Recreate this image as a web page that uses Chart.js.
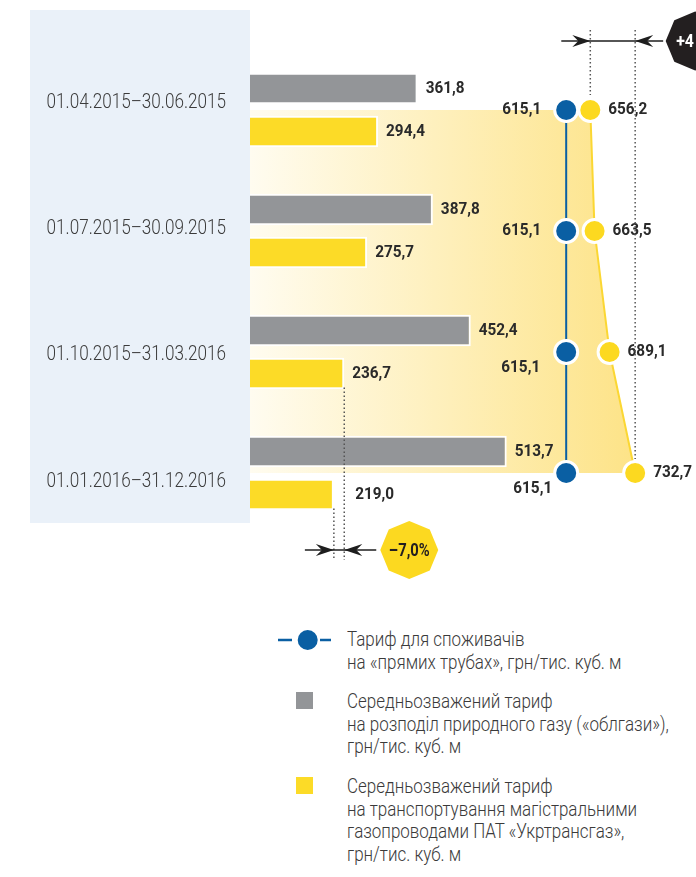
<!DOCTYPE html>
<html>
<head>
<meta charset="utf-8">
<style>
  body { margin: 0; background: #fff; width: 696px; height: 877px; overflow: hidden; position: relative;
         font-family: Roboto, 'DejaVu Sans Condensed', sans-serif; }
  #wrap { position: absolute; left: 0; top: 0; width: 696px; height: 600px; }
  .txt { position: absolute; left: 347px; color: #3a3a3a; font-size: 19.5px; font-weight: 300; line-height: 22.6px;
         white-space: nowrap; transform: scaleX(0.87); transform-origin: 0 0; }
  .sym { position: absolute; }
</style>
</head>
<body>
<div id="wrap"><canvas id="tariff-chart"></canvas></div>

<svg class="sym" style="left:276px;top:628px" width="60" height="24">
  <line x1="2" y1="12" x2="16" y2="12" stroke="#0a5fa3" stroke-width="2.5"/>
  <circle cx="31.7" cy="12" r="10" fill="#0a5fa3"/>
  <line x1="44" y1="12" x2="55" y2="12" stroke="#0a5fa3" stroke-width="2.5"/>
</svg>
<div class="txt" style="top:629px">Тариф для споживачів<br>на «прямих трубах», грн/тис. куб. м</div>

<div class="sym" style="left:296px;top:692px;width:17px;height:17px;background:#939598"></div>
<div class="txt" style="top:691px">Середньозважений тариф<br>на розподіл природного газу («облгази»),<br>грн/тис. куб. м</div>

<div class="sym" style="left:296px;top:777px;width:17px;height:17px;background:#fcdb27"></div>
<div class="txt" style="top:776px">Середньозважений тариф<br>на транспортування магістральними<br>газопроводами ПАТ «Укртрансгаз»,<br>грн/тис. куб. м</div>

<script src="https://cdn.jsdelivr.net/npm/chart.js"></script>

<script>
    const periods = ['01.04.2015–30.06.2015', '01.07.2015–30.09.2015', '01.10.2015–31.03.2016', '01.01.2016–31.12.2016'];
    const distribution = [361.8, 387.8, 452.4, 513.7];   // облгази
    const transport = [294.4, 275.7, 236.7, 219.0];      // Укртрансгаз
    const directPipes = [615.1, 615.1, 615.1, 615.1];
    const networkTotal = [656.2, 663.5, 689.1, 732.7];
    const badgeUp = '+4';
    const badgeDown = '–7,0%';

    const FONT = "Roboto, 'DejaVu Sans Condensed', sans-serif";
    const BLUE = '#0a5fa3';
    const GOLD = '#fcd920';
    const GREY = '#939598';
    const BAR_YELLOW = '#fcdb27';

    const fmt = v => v.toFixed(1).replace('.', ',');

    // narrow text: the house font is condensed, so squeeze Roboto horizontally
    function narrowText(ctx, text, x, y, align, sx) {
        ctx.save();
        ctx.translate(x, y);
        ctx.scale(sx, 1);
        ctx.textAlign = align;
        ctx.fillText(text, 0, 0);
        ctx.restore();
    }

    // light blue panel with the period labels
    const panel = {
        id: 'panel',
        beforeDraw(chart) {
            const { ctx, chartArea } = chart;
            ctx.save();
            ctx.fillStyle = '#eaf1f9';
            ctx.fillRect(30, 10, chartArea.left - 30, 513);
            ctx.restore();
        },
        afterDraw(chart) {
            const { ctx, chartArea } = chart;
            const y = chart.scales.y;
            ctx.save();
            ctx.font = `300 21px ${FONT}`;
            ctx.fillStyle = '#3b3b3b';
            ctx.textBaseline = 'middle';
            // labels run on a slightly wider pitch than the rows
            chart.data.labels.forEach((lbl, i) => {
                narrowText(ctx, lbl, chartArea.left - 24, y.getPixelForTick(i) - 7.5 + 5.3 * i, 'right', 0.815);
            });
            ctx.restore();
        }
    };

    // shaded area bounded by the network tariff points
    const area = {
        id: 'area',
        beforeDatasetsDraw(chart) {
            const { ctx, chartArea } = chart;
            const pts = chart.getDatasetMeta(3).data;
            const left = chartArea.left;
            const maxX = Math.max(...pts.map(p => p.x));
            const grad = ctx.createLinearGradient(left, 0, maxX, 0);
            grad.addColorStop(0, '#fffcf0');
            grad.addColorStop(1, '#fde387');
            ctx.save();
            ctx.beginPath();
            ctx.moveTo(left, pts[0].y);
            pts.forEach(p => ctx.lineTo(p.x, p.y));
            ctx.lineTo(left, pts[pts.length - 1].y);
            ctx.closePath();
            ctx.fillStyle = grad;
            ctx.fill();
            ctx.beginPath();
            pts.forEach((p, i) => i ? ctx.lineTo(p.x, p.y) : ctx.moveTo(p.x, p.y));
            ctx.strokeStyle = '#fbd733';
            ctx.lineWidth = 2;
            ctx.stroke();
            ctx.restore();
        }
    };

    // value labels next to bars and points
    const values = {
        id: 'values',
        afterDatasetsDraw(chart) {
            const { ctx } = chart;
            const x = chart.scales.x;
            const sx = 0.9;
            ctx.save();
            ctx.font = `bold 17px ${FONT}`;
            ctx.fillStyle = '#2a2a2a';
            ctx.textBaseline = 'middle';

            chart.getDatasetMeta(0).data.forEach((b, i) => narrowText(ctx, fmt(distribution[i]), b.x + 8, b.y, 'left', sx));
            chart.getDatasetMeta(1).data.forEach((b, i) => {
                let lx = b.x + 8;
                // last row: text sits past the comparison guide
                if (i === transport.length - 1) lx = Math.max(lx, x.getPixelForValue(transport[i - 1]) + 11);
                narrowText(ctx, fmt(transport[i]), lx, b.y, 'left', sx);
            });
            chart.getDatasetMeta(3).data.forEach((p, i) => narrowText(ctx, fmt(networkTotal[i]), p.x + 18, p.y, 'left', sx));

            const blueShift = [[-25, 0], [-25, 0], [-26, 16], [-14, 16]];
            chart.getDatasetMeta(2).data.forEach((p, i) => {
                narrowText(ctx, fmt(directPipes[i]), p.x + blueShift[i][0], p.y + blueShift[i][1], 'right', sx);
            });
            ctx.restore();
        }
    };

    function dotted(ctx, x, y1, y2) {
        ctx.beginPath();
        ctx.setLineDash([1.5, 2.5]);
        ctx.moveTo(x, y1);
        ctx.lineTo(x, y2);
        ctx.strokeStyle = '#555';
        ctx.lineWidth = 1.5;
        ctx.stroke();
        ctx.setLineDash([]);
    }

    function arrowHead(ctx, x, y, dir) {
        ctx.beginPath();
        ctx.moveTo(x, y);
        ctx.lineTo(x - dir * 18, y - 6);
        ctx.lineTo(x - dir * 12, y);
        ctx.lineTo(x - dir * 18, y + 6);
        ctx.closePath();
        ctx.fillStyle = '#1e1e1e';
        ctx.fill();
    }

    function octagon(ctx, cx, cy, r, color) {
        ctx.beginPath();
        for (let k = 0; k < 8; k++) {
            const a = k * Math.PI / 4;
            const px = cx + r * Math.cos(a), py = cy + r * Math.sin(a);
            k ? ctx.lineTo(px, py) : ctx.moveTo(px, py);
        }
        ctx.closePath();
        ctx.fillStyle = color;
        ctx.fill();
    }

    function bracket(ctx, xa, xb, y, left, right) {
        ctx.beginPath();
        ctx.moveTo(left, y);
        ctx.lineTo(right, y);
        ctx.strokeStyle = '#1e1e1e';
        ctx.lineWidth = 1.5;
        ctx.stroke();
        arrowHead(ctx, xa, y, 1);
        arrowHead(ctx, xb, y, -1);
    }

    // change markers: guides, arrows and badges
    const changes = {
        id: 'changes',
        afterDraw(chart) {
            const { ctx } = chart;
            const x = chart.scales.x;
            const net = chart.getDatasetMeta(3).data;
            const yb = chart.getDatasetMeta(1).data;
            ctx.save();

            // network tariff growth, top
            const a = x.getPixelForValue(networkTotal[0]);
            const b = x.getPixelForValue(networkTotal[3]);
            dotted(ctx, a, 30, net[0].y - 15);
            dotted(ctx, b, 30, net[3].y - 14);
            bracket(ctx, a, b, 41, a - 29, b + 28);
            octagon(ctx, b + 60, 41, 29.5, '#231f20');
            ctx.font = `bold 18px ${FONT}`;
            ctx.fillStyle = '#fff';
            ctx.textBaseline = 'middle';
            narrowText(ctx, badgeUp, b + 41, 42, 'left', 0.88);

            // transport tariff drop, bottom
            const c = x.getPixelForValue(transport[3]);
            const d = x.getPixelForValue(transport[2]);
            dotted(ctx, c, yb[3].y + 14, 560);
            dotted(ctx, d, yb[2].y + 14, 560);
            bracket(ctx, c, d, 550, c - 29, d + 32);
            octagon(ctx, d + 65, 550, 29, GOLD);
            ctx.fillStyle = '#231f20';
            ctx.font = `bold 18px ${FONT}`;
            narrowText(ctx, badgeDown, d + 65, 551, 'center', 0.82);
            ctx.restore();
        }
    };

    const ctx = document.getElementById('tariff-chart');

    new Chart(ctx, {
        type: 'bar',
        data: {
            labels: periods,
            datasets: [
                {
                    label: 'облгази',
                    data: distribution,
                    backgroundColor: GREY,
                    borderColor: '#fff',
                    borderWidth: 2,
                    categoryPercentage: 0.714,
                    barPercentage: 0.73,
                    order: 2
                },
                {
                    label: 'Укртрансгаз',
                    data: transport,
                    backgroundColor: BAR_YELLOW,
                    borderColor: '#fff',
                    borderWidth: 2,
                    categoryPercentage: 0.714,
                    barPercentage: 0.73,
                    order: 2
                },
                {
                    type: 'line',
                    label: 'прямі труби',
                    data: directPipes,
                    borderColor: BLUE,
                    borderWidth: 2,
                    pointRadius: 11.5,
                    pointBackgroundColor: BLUE,
                    pointBorderColor: '#fff',
                    pointBorderWidth: 3,
                    order: 0
                },
                {
                    type: 'line',
                    label: 'разом',
                    data: networkTotal,
                    showLine: false,
                    pointRadius: 11.5,
                    pointBackgroundColor: GOLD,
                    pointBorderColor: '#fff',
                    pointBorderWidth: 3,
                    order: 1
                }
            ]
        },
        options: {
            indexAxis: 'y',
            responsive: true,
            maintainAspectRatio: false,
            animation: false,
            layout: { padding: { left: 30, top: 49.5, bottom: 66.5, right: 15.5 } },
            plugins: { legend: { display: false }, tooltip: { enabled: false } },
            scales: {
                x: { display: false, min: 76, max: 810 },
                y: {
                    grid: { display: false },
                    border: { display: false },
                    afterFit: (scale) => { scale.width = 220; },
                    ticks: { display: false }
                }
            }
        },
        plugins: [panel, area, values, changes]
    });
</script>
</body>
</html>
